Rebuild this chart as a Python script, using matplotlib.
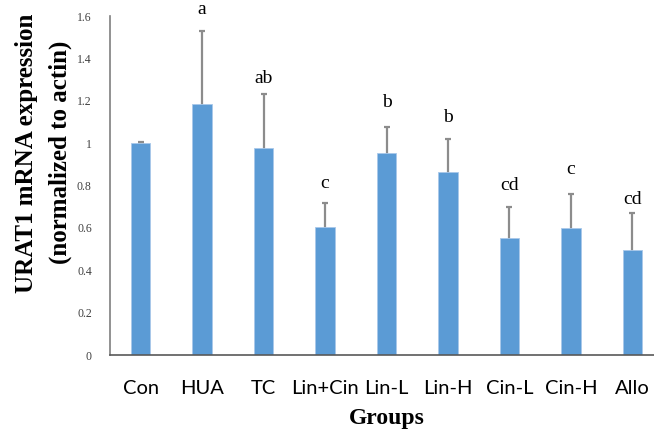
import matplotlib.pyplot as plt

groups = ["Con", "HUA", "TC", "Lin+Cin", "Lin-L", "Lin-H", "Cin-L", "Cin-H", "Allo"]
expression = [1.00, 1.185, 0.978, 0.605, 0.952, 0.865, 0.554, 0.598, 0.496]
sd = [0.005, 0.345, 0.255, 0.111, 0.123, 0.153, 0.146, 0.160, 0.173]
letters = ["", "a", "ab", "c", "b", "b", "cd", "c", "cd"]
letter_y = [None, 1.63, 1.305, 0.81, 1.19, 1.12, 0.80, 0.876, 0.735]

fig = plt.figure(figsize=(6.54, 4.34), dpi=100)
ax = fig.add_axes([0.168, 0.182, 0.846, 0.781])

x = range(len(groups))
# symmetric error bars drawn behind the bars, so only the upper half shows
ax.errorbar(x, expression, yerr=sd, fmt="none", ecolor="#8c8c8c",
            elinewidth=1.6, capsize=2.2, capthick=1.6, zorder=1)
ax.bar(x, expression, width=0.32, color="#5b9bd5", edgecolor="#a9c8ea", linewidth=0.6, zorder=2)

for xi, lab, ly in zip(x, letters, letter_y):
    if lab:
        ax.text(xi, ly, lab, ha="center", va="center", fontsize=14, family="Liberation Serif")

ax.set_xlim(-0.5, 8.5)
ax.set_ylim(0, 1.6)
ax.set_yticks([0, 0.2, 0.4, 0.6, 0.8, 1.0, 1.2, 1.4, 1.6])
ax.set_yticklabels(["0", "0.2", "0.4", "0.6", "0.8", "1", "1.2", "1.4", "1.6"],
                   family="Liberation Serif", fontsize=8.5, color="#404040")
ax.set_xticks(list(x))
ax.set_xticklabels(groups, family="Lato", fontsize=14.5)
ax.tick_params(axis="y", length=0, pad=13)
ax.tick_params(axis="x", length=0, pad=18)

for side in ["top", "right"]:
    ax.spines[side].set_visible(False)
ax.spines["left"].set_color("#7f7f7f")
ax.spines["left"].set_linewidth(1.2)
ax.spines["bottom"].set_color("#595959")
ax.spines["bottom"].set_linewidth(1.2)

ax.set_xlabel("Groups", family="Liberation Serif", fontweight="bold", fontsize=17, labelpad=8)

fig.text(0.041, 0.647, "URAT1 mRNA expression", rotation=90, ha="center", va="center",
         family="Liberation Serif", fontweight="bold", fontsize=18)
fig.text(0.092, 0.650, "(normalized to actin)", rotation=90, ha="center", va="center",
         family="Liberation Serif", fontweight="bold", fontsize=18)

fig.savefig("out.png", dpi=100)
